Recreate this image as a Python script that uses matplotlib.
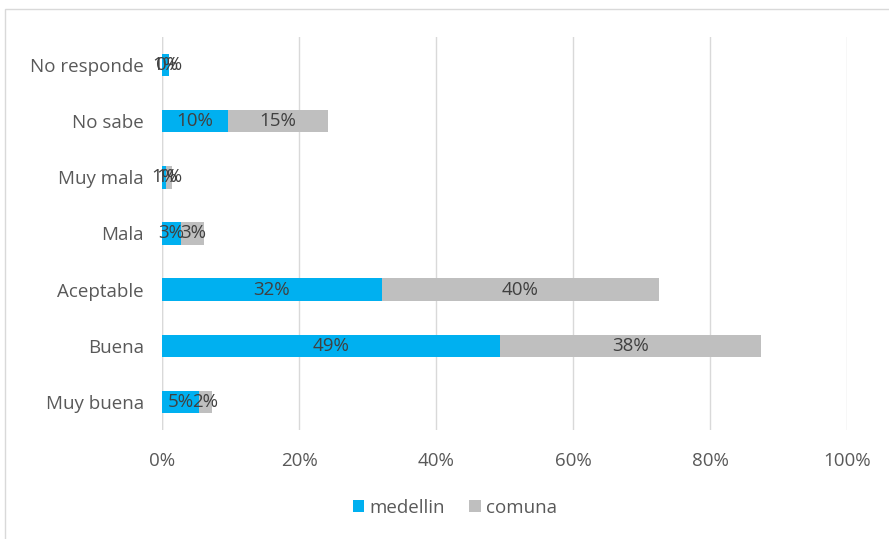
import matplotlib
matplotlib.use("Agg")
import matplotlib.pyplot as plt
from matplotlib.patches import Rectangle

categories = ["Muy buena", "Buena", "Aceptable", "Mala", "Muy mala", "No sabe", "No responde"]
medellin = [5.4, 49.3, 32.1, 2.8, 0.6, 9.6, 1.0]
comuna = [1.9, 38.2, 40.4, 3.4, 0.9, 14.7, 0.0]
med_labels = ["5%", "49%", "32%", "3%", "1%", "10%", "1%"]
com_labels = ["2%", "38%", "40%", "3%", "1%", "15%", "0%"]
xticks = [0, 20, 40, 60, 80, 100]
xticklabels = ["0%", "20%", "40%", "60%", "80%", "100%"]

BLUE = "#00B0F0"
GREY = "#BFBFBF"
TXT = "#595959"
LBL = "#404040"
FS = 13.5

plt.rcParams['font.family'] = ['Open Sans', 'DejaVu Sans']

fig = plt.figure(figsize=(8.89, 5.39), dpi=100)
ax = fig.add_axes([162/889, 1-430/539, (847-162)/889, (430-37)/539])

y = list(range(len(categories)))
h = 0.4
ax.barh(y, medellin, height=h, color=BLUE, label="medellin", zorder=3)
ax.barh(y, comuna, left=medellin, height=h, color=GREY, label="comuna", zorder=3)

for i in y:
    ax.text(medellin[i]/2, i, med_labels[i], ha="center", va="center", color=LBL, fontsize=FS, zorder=4)
    ax.text(medellin[i] + comuna[i]/2, i, com_labels[i], ha="center", va="center", color=LBL, fontsize=FS, zorder=4)

ax.set_xlim(0, 100)
ax.set_ylim(-0.5, len(categories) - 0.5)
ax.set_xticks(xticks)
ax.set_xticklabels(xticklabels)
ax.set_yticks(y)
ax.set_yticklabels(categories)
ax.tick_params(axis="both", length=0, colors=TXT, labelsize=FS)
ax.tick_params(axis="x", pad=16)
ax.tick_params(axis="y", pad=13)
ax.grid(axis="x", color="#D9D9D9", linewidth=1, zorder=0)
for s in ax.spines.values():
    s.set_visible(False)
ax.axvline(0, color="#D9D9D9", linewidth=1, zorder=1)

leg = fig.legend(loc="center", bbox_to_anchor=(455/889, 1-508/539), ncol=2, frameon=False,
                 fontsize=FS, handlelength=0.6, handleheight=0.6, handletextpad=0.3,
                 columnspacing=1.3, labelcolor=TXT)

fig.patches.append(Rectangle((5/889, -0.02), 1.0, 1-9/539+0.02, transform=fig.transFigure,
                             fill=False, edgecolor="#D9D9D9", linewidth=1))

fig.savefig("out.png", dpi=100)
